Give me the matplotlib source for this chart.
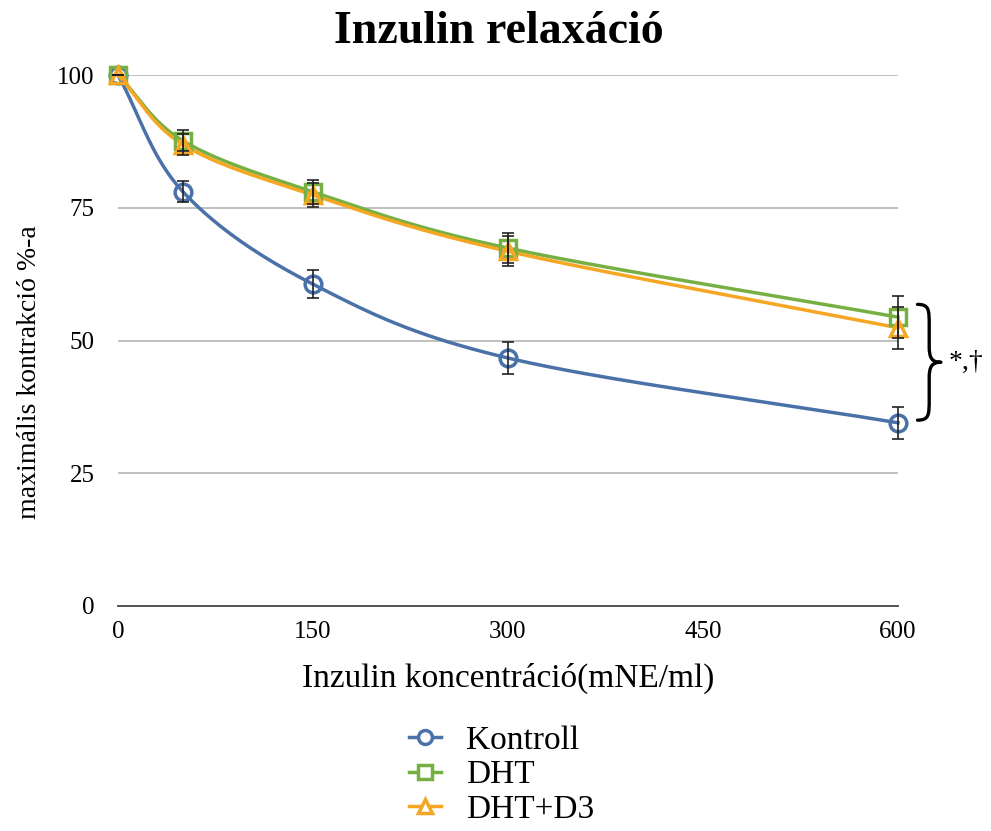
import numpy as np
import matplotlib
matplotlib.use("Agg")
import matplotlib.pyplot as plt
from matplotlib.path import Path
from matplotlib.patches import PathPatch

plt.rcParams['font.family'] = ['Liberation Serif', 'DejaVu Serif']

conc = [0, 50, 150, 300, 600]
kontroll = [100, 78.0, 60.6, 46.7, 34.5]
kontroll_err = [0, 2.0, 2.6, 3.0, 3.0]
dht = [100, 87.6, 78.0, 67.4, 54.4]
dht_err = [0, 2.0, 2.3, 2.8, 4.0]
dht_d3 = [100, 86.9, 77.4, 66.8, 52.4]
dht_d3_err = [0, 2.0, 2.3, 2.8, 4.0]

series_names = ['Kontroll', 'DHT', 'DHT+D3']
colors = ['#4a72a8', '#76b043', '#f5a623']
markers = ['o', 's', '^']

xticks = [0, 150, 300, 450, 600]
yticks = [0, 25, 50, 75, 100]


def smooth(x, y, n=40):
    # Catmull-Rom spline through the data points (render-only smoothing)
    x = np.asarray(x, float); y = np.asarray(y, float)
    P = np.column_stack([x, y])
    P = np.vstack([2 * P[0] - P[1], P, 2 * P[-1] - P[-2]])
    out = []
    for i in range(1, len(P) - 2):
        p0, p1, p2, p3 = P[i - 1], P[i], P[i + 1], P[i + 2]
        t = np.linspace(0, 1, n)[:, None]
        c1 = p1 + (p2 - p0) / 6
        c2 = p2 - (p3 - p1) / 6
        seg = ((1 - t) ** 3) * p1 + 3 * ((1 - t) ** 2) * t * c1 + 3 * (1 - t) * t ** 2 * c2 + t ** 3 * p2
        out.append(seg if i == 1 else seg[1:])
    out = np.vstack(out)
    return out[:, 0], out[:, 1]


fig = plt.figure(figsize=(9.91, 8.31), dpi=100)
ax = fig.add_axes([118 / 991, 1 - 606 / 831, (898 - 118) / 991, (606 - 75) / 831])

data = [(kontroll, kontroll_err), (dht, dht_err), (dht_d3, dht_d3_err)]
handles = []
for (vals, errs), name, c, m in zip(data, series_names, colors, markers):
    sx, sy = smooth(conc, vals)
    ax.plot(sx, sy, color=c, lw=2.5, zorder=3, clip_on=False)
    ax.errorbar(conc, vals, yerr=errs, fmt='none', ecolor='#222222', elinewidth=1.2,
                capsize=4, capthick=1.2, zorder=5, clip_on=False)
    ax.plot(conc, vals, linestyle='none', marker=m, ms=12, mfc='none', mec=c, mew=2.5,
            zorder=4, clip_on=False)
    h, = ax.plot([], [], color=c, lw=2.5, marker=m, ms=10, mfc='white', mec=c, mew=2.5)
    handles.append(h)

ax.set_xlim(0, 600)
ax.set_ylim(0, 100)
ax.set_xticks(xticks)
ax.set_yticks(yticks)
ax.tick_params(axis='both', length=0, labelsize=18, pad=11)
ax.tick_params(axis='y', pad=17)
for yv in yticks[1:]:
    ax.axhline(yv, color='#b5b5b5', lw=1.2, zorder=1)
for s in ['top', 'right', 'left']:
    ax.spines[s].set_visible(False)
ax.spines['bottom'].set_color('#444444')
ax.spines['bottom'].set_linewidth(1.3)

ax.set_xlabel('Inzulin koncentráció(mNE/ml)', fontsize=24, labelpad=14)
fig.text(30 / 991, 1 - 372 / 831, 'maximális kontrakció %-a', rotation=90,
         ha='center', va='center', fontsize=20)
fig.text(0.503, 1 - 32 / 831, 'Inzulin relaxáció', ha='center', va='center',
         fontsize=33, fontweight='bold')

# brace
x0, x1 = 615, 633
ytop, ybot = 56.8, 35.0
ym = (ytop + ybot) / 2
xm = (x0 + x1) / 2
verts = [(x0, ytop), (xm, ytop), (xm, ytop - 1), (xm, ytop - 4),
         (xm, ym + 3),
         (xm, ym + 0.8), (xm + 2, ym), (x1, ym),
         (xm + 2, ym), (xm, ym - 0.8), (xm, ym - 3),
         (xm, ybot + 4),
         (xm, ybot + 1), (xm, ybot), (x0, ybot)]
codes = [Path.MOVETO, Path.CURVE4, Path.CURVE4, Path.CURVE4,
         Path.LINETO,
         Path.CURVE4, Path.CURVE4, Path.CURVE4,
         Path.CURVE4, Path.CURVE4, Path.CURVE4,
         Path.LINETO,
         Path.CURVE4, Path.CURVE4, Path.CURVE4]
ax.add_patch(PathPatch(Path(verts, codes), fill=False, lw=2.4, color='black',
                       capstyle='round', joinstyle='round', clip_on=False))
ax.text(639, ym, '*,†', fontsize=20, va='center', ha='left', clip_on=False)

fig.legend(handles, series_names, loc='center', bbox_to_anchor=(0.506, 1 - 775 / 831),
           frameon=False, fontsize=24, handlelength=0.95, labelspacing=0.12,
           handletextpad=0.75, borderpad=0)

fig.savefig('out.png', dpi=100)
